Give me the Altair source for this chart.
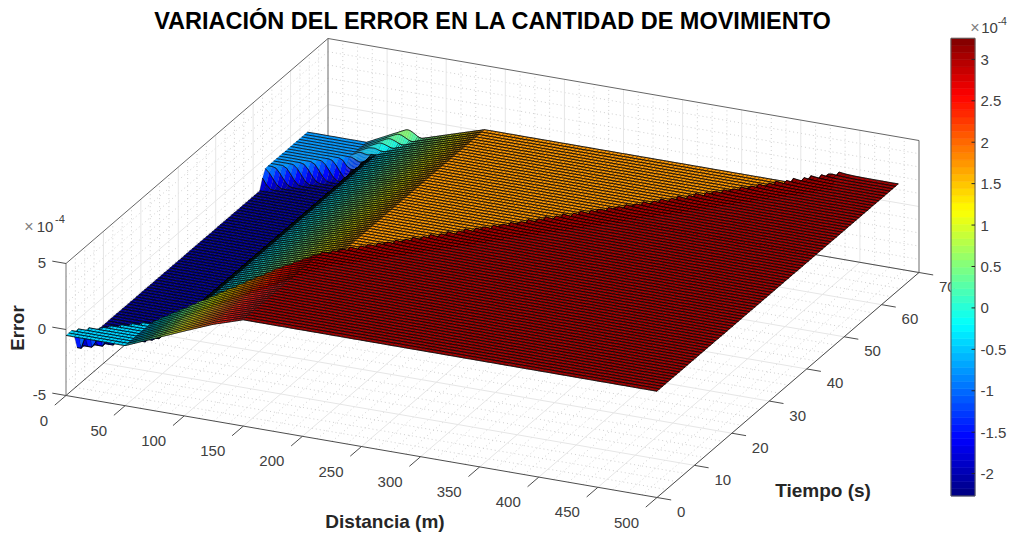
import altair as alt
import numpy as np
import pandas as pd

alt.data_transformers.disable_max_rows()

FONT = "Liberation Sans"
W, H = 998, 519
CLIM = [-2.27, 3.254]

# ---- values (error in units of 1e-4) ----
title_text = "VARIACIÓN DEL ERROR EN LA CANTIDAD DE MOVIMIENTO"
x_ticks = [0, 50, 100, 150, 200, 250, 300, 350, 400, 450, 500]
t_ticks = [0, 10, 20, 30, 40, 50, 60, 70]
z_ticks = [-5, 0, 5]
cbar_ticks = [-2, -1.5, -1, -0.5, 0, 0.5, 1, 1.5, 2, 2.5, 3]

# Surface height along distance in each of the three regions
ahead_x = [0, 50, 74, 102, 124, 150, 500]
ahead_z = [-0.45, -0.45, 0.45, 1.50, 2.30, 3.05, 3.05]
behind_x = [0, 50, 66, 150, 500]
behind_z = [-2.10, -2.10, -0.60, 1.75, 1.75]
after_x = [0, 50, 91, 150, 500]
after_z = [-0.75, -0.75, 1.05, 2.60, 2.60]
# Wave fronts read as (time, distance) points
shock_t = [0, 2.4, 3.8, 8, 24.4, 64.5]
shock_x = [-10, 0, 15, 50, 172, 446]
front_t = [52.4, 64.6]
front_x = [0, 91]
# Spacing of the mesh lines seen on the surface. The fine mesh is resampled
# from the breakpoint tables above; single cells cannot be read from the picture.
mesh_dt, mesh_tmax = 0.75, 64.5
mesh_edges = [0, 50, 70, 150, 500]
mesh_steps = [3.33, 0.9, 1.67, 3.33]

# ---- view of the 3-D box, read from its corners (page pixels) ----
ORIGIN = (66.0, 395.5)
PER_X = (591 / 500, 102 / 500)
PER_T = (262 / 70, -225 / 70)
PER_Z = 13.2


def proj(x, t, z=-5):
    return (ORIGIN[0] + PER_X[0] * x + PER_T[0] * t - 8,
            ORIGIN[1] + PER_X[1] * x + PER_T[1] * t - PER_Z * (z + 5) - 8)


def jet(f):
    r = np.clip(min(4 * f - 1.5, -4 * f + 4.5), 0, 1)
    g = np.clip(min(4 * f - 0.5, -4 * f + 3.5), 0, 1)
    b = np.clip(min(4 * f + 0.5, -4 * f + 2.5), 0, 1)
    return "#%02x%02x%02x" % (round(r * 255), round(g * 255), round(b * 255))


JET = [jet((i + 0.5) / 64) for i in range(64)]


def surf(x, t):
    shock = np.interp(t, shock_t, shock_x)
    ahead = np.interp(x, ahead_x, ahead_z)
    behind = np.interp(x, behind_x, behind_z)
    if t >= front_t[0]:
        front = np.interp(t, front_t, front_x)
        s = np.clip((front - x) / 15.0 + 0.5, 0, 1)
        s = s * s * (3 - 2 * s)
        behind = behind + s * (np.interp(x, after_x, after_z) - behind)
    a = np.clip((x - shock) / 5.0 + 0.5, 0, 1)
    over = 0.2 * np.clip((x - 150) / 20, 0, 1) * np.exp(-max(x - shock, 0) / 8.0) * a
    return behind + a * (ahead - behind) + over


xs = np.concatenate([np.arange(a, b - 1e-6, s) for a, b, s in zip(mesh_edges[:-1], mesh_edges[1:], mesh_steps)] + [[500.0]])
ts = np.append(np.arange(0, mesh_tmax - 0.05, mesh_dt), mesh_tmax)
Z = np.array([[surf(x, t) for x in xs] for t in ts])


def pt(i, j):
    px, py = proj(xs[i], ts[j], Z[j, i])
    return [round(float(px), 1), round(float(py), 1)]


def row_line(j):
    return {"type": "Feature",
            "geometry": {"type": "LineString", "coordinates": [pt(i, j) for i in range(len(xs))]},
            "properties": {"fill": "transparent", "sw": 0.75}}


def cell_stroke(x, t):
    # behind the second front the mesh reads as fine as on the flat parts
    if t >= front_t[0] and x < np.interp(t, front_t, front_x) + 8:
        return 0.12
    if x >= 150:
        return 0.35
    if x > np.interp(t, shock_t, shock_x):   # ramp ahead of the shock
        return 0.2
    if 50 <= x < 70:
        return 0.8
    if 70 <= x < 150:
        return 0.45
    return 0.35


features = []
for j in range(len(ts) - 2, -1, -1):        # far rows first
    for i in range(len(xs) - 1):            # far columns first
        cs = [(i, j), (i + 1, j), (i + 1, j + 1), (i, j + 1), (i, j)]
        v = float(np.mean([Z[b, a] for a, b in cs[:4]]))
        k = int(np.clip((v - CLIM[0]) / (CLIM[1] - CLIM[0]) * 64, 0, 63))
        features.append({"type": "Feature",
                         "geometry": {"type": "Polygon", "coordinates": [[pt(a, b) for a, b in cs]]},
                         "properties": {"fill": JET[k], "sw": cell_stroke(xs[i], ts[j])}})
    features.append(row_line(j + 1))
features.append(row_line(0))

X_ENC = alt.Scale(domain=[0, W], nice=False, zero=False)
Y_ENC = alt.Scale(domain=[H, 0], nice=False, zero=False)


def seg(rows, **style):
    df = pd.DataFrame(rows, columns=["x0", "y0", "x1", "y1"])
    return alt.Chart(df).mark_rule(**style).encode(
        x=alt.X("x0:Q", scale=X_ENC, axis=None),
        y=alt.Y("y0:Q", scale=Y_ENC, axis=None),
        x2="x1:Q", y2="y1:Q")


def line(a, b):
    return [*proj(*a), *proj(*b)]


def txt(rows, size, color="#404040", weight="normal", align="center", angle=0):
    df = pd.DataFrame(rows, columns=["px", "py", "label"])
    df["px"] -= 8
    df["py"] -= 8
    return alt.Chart(df).mark_text(font=FONT, fontSize=size, color=color, fontWeight=weight,
                                   align=align, baseline="middle", angle=angle).encode(
        x=alt.X("px:Q", scale=X_ENC, axis=None),
        y=alt.Y("py:Q", scale=Y_ENC, axis=None),
        text="label:N")


# grids
major, minor = [], []
x_minor = [v for v in np.arange(0, 500.1, 12.5) if v % 50]
t_minor = [v for v in np.arange(0, 70.1, 2.5) if v % 10]
z_minor = [v for v in range(-5, 6) if v % 5]
for v in x_ticks[1:]:
    major += [line((v, 0), (v, 70)), line((v, 70, -5), (v, 70, 5))]
for v in t_ticks[1:]:
    major += [line((0, v), (500, v)), line((0, v, -5), (0, v, 5))]
major += [line((0, 0, 0), (0, 70, 0)), line((0, 70, 0), (500, 70, 0))]
for v in x_minor:
    minor += [line((v, 0), (v, 70)), line((v, 70, -5), (v, 70, 5))]
for v in t_minor:
    minor += [line((0, v), (500, v)), line((0, v, -5), (0, v, 5))]
for v in z_minor:
    minor += [line((0, 0, v), (0, 70, v)), line((0, 70, v), (500, 70, v))]

# box edges and ticks
edges = [line((0, 0, -5), (0, 0, 5)), line((0, 70, -5), (0, 70, 5)), line((500, 70, -5), (500, 70, 5))]
top = [line((0, 0, 5), (0, 70, 5)), line((0, 70, 5), (500, 70, 5))]
axes = [line((0, 0), (500, 0)), line((500, 0), (500, 70)), line((0, 0), (0, 70)), line((0, 70), (500, 70))]
for v in x_ticks:
    axes.append(line((v, 0), (v, -3)))
for v in t_ticks:
    axes.append(line((500, v), (512, v)))
for v in z_ticks:
    axes.append(line((0, 0, v), (-11.6, 0, v)))

x_lab, t_lab, z_lab = [], [], []
for v in x_ticks:
    px, py = proj(v, 0)
    x_lab.append((px + 8 - 18, py + 8 + 25, str(v)))
for v in t_ticks:
    px, py = proj(500, v)
    t_lab.append((px + 8 + 20, py + 8 + 14.5, str(v)))
for v in z_ticks:
    px, py = proj(0, 0, v)
    z_lab.append((px + 8 - 20, py + 8 - 1, str(v)))

surface = alt.Chart(alt.Data(values=features)).mark_geoshape(
    stroke="#000000", clip=False
).encode(
    color=alt.Color("properties.fill:N", scale=None),
    strokeWidth=alt.StrokeWidth("properties.sw:Q", scale=None),
).project(type="identity", scale=1, translate=[0, 0])

# colour bar with a real axis, inside the same view
PX_Z = 82.8
BAR_DOMAIN = [CLIM[0] - (8 + H - 496) / PX_Z, CLIM[1] + (38.3 - 8) / PX_Z]
BAR_L, BAR_R = 943, 967
bar_scale = alt.Scale(domain=BAR_DOMAIN, nice=False, zero=False)
edges64 = np.linspace(CLIM[0], CLIM[1], 65)
bands = pd.DataFrame({"lo": edges64[:-1], "hi": edges64[1:], "c": JET})
bar = alt.Chart(bands).mark_rect(strokeWidth=0.6).encode(
    y=alt.Y("lo:Q", scale=bar_scale,
            axis=alt.Axis(orient="right", offset=BAR_R - W, values=cbar_ticks, ticks=False,
                          domain=False, grid=False, title=None, labelFont=FONT, labelFontSize=15,
                          labelColor="#404040", labelPadding=5, labelExpr="'' + datum.value")),
    y2="hi:Q", x=alt.value(BAR_L), x2=alt.value(BAR_R),
    color=alt.Color("c:N", scale=None), stroke=alt.Stroke("c:N", scale=None))
frame = alt.Chart(pd.DataFrame({"lo": [CLIM[0]], "hi": [CLIM[1]]})).mark_rect(
    fill=None, stroke="#5a5a5a", strokeWidth=1).encode(
    y=alt.Y("lo:Q", scale=bar_scale, axis=None), y2="hi:Q", x=alt.value(BAR_L), x2=alt.value(BAR_R))
bar_ticks = alt.Chart(pd.DataFrame({"lo": cbar_ticks})).mark_rule(color="#262626", strokeWidth=1).encode(
    y=alt.Y("lo:Q", scale=bar_scale, axis=None), x=alt.value(BAR_R - 3.5), x2=alt.value(BAR_R))

chart = alt.layer(
    seg(minor, color="#c4c4c4", strokeWidth=0.8, strokeDash=[1, 3]),
    seg(major, color="#e6e6e6", strokeWidth=1),
    seg(edges, color="#8c8c8c", strokeWidth=1.2),
    seg(top, color="#666666", strokeWidth=1),
    seg(axes, color="#4d4d4d", strokeWidth=1),
    surface,
    txt(x_lab, 15, align="right"),
    txt(t_lab, 15, align="left"),
    txt(z_lab, 15, align="right"),
    txt([(492.5, 22, title_text)], 23.5, color="#000000", weight="bold"),
    txt([(385, 522, "Distancia (m)")], 19, color="#262626", weight="bold"),
    txt([(823, 491, "Tiempo (s)")], 19, color="#262626", weight="bold"),
    txt([(18, 328, "Error")], 18.5, color="#262626", weight="bold", angle=270),
    txt([(29, 227, "×")], 16, color="#808080"),
    txt([(45, 227, "10")], 15),
    txt([(60, 220, "-4")], 11),
    txt([(975, 28, "×")], 16, color="#808080"),
    txt([(989.5, 28, "10")], 15),
    txt([(1002.3, 22, "-4")], 10.5),
    bar, frame, bar_ticks,
).resolve_scale(y="independent", color="independent", stroke="independent").properties(
    width=W, height=H, padding=0
).configure_view(stroke=None)

chart.save("out.html", embed_options={"renderer": "svg", "actions": False})
